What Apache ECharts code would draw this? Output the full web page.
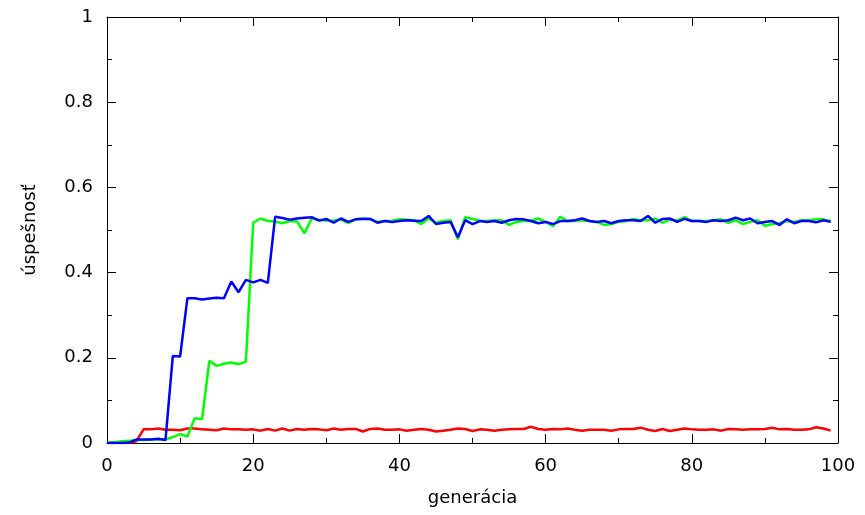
<!DOCTYPE html>
<html>
<head>
<meta charset="utf-8">
<script src="https://cdn.jsdelivr.net/npm/echarts@6/dist/echarts.min.js"></script>
<style>
  html, body { margin: 0; padding: 0; background: #fff; }
  #chart { width: 865px; height: 515px; }
</style>
</head>
<body>
<div id="chart"></div>
<script>
// generácie 0..99
var generations = [];
for (var i = 0; i < 100; i++) generations.push(i);

var greenValues = [
    0, 0.002, 0.004, 0.005, 0.007, 0.007, 0.008, 0.008, 0.008, 0.014,
    0.021, 0.015, 0.058, 0.056, 0.193, 0.181, 0.186, 0.189, 0.185, 0.191,
    0.517, 0.527, 0.521, 0.520, 0.516, 0.521, 0.520, 0.492, 0.527, 0.524,
    0.522, 0.522, 0.525, 0.516, 0.525, 0.527, 0.526, 0.519, 0.521, 0.522,
    0.525, 0.524, 0.523, 0.514, 0.527, 0.517, 0.521, 0.523, 0.478, 0.530,
    0.526, 0.522, 0.521, 0.523, 0.523, 0.512, 0.519, 0.521, 0.521, 0.527,
    0.519, 0.509, 0.531, 0.521, 0.521, 0.523, 0.521, 0.519, 0.512, 0.514,
    0.519, 0.521, 0.526, 0.523, 0.523, 0.527, 0.517, 0.525, 0.522, 0.530,
    0.521, 0.521, 0.521, 0.523, 0.525, 0.517, 0.523, 0.514, 0.519, 0.523,
    0.510, 0.514, 0.516, 0.521, 0.519, 0.523, 0.523, 0.525, 0.525, 0.521
];

var blueValues = [
    0, 0, 0, 0.001, 0.008, 0.008, 0.008, 0.010, 0.007, 0.204,
    0.203, 0.340, 0.340, 0.337, 0.339, 0.341, 0.340, 0.379, 0.354, 0.383,
    0.377, 0.383, 0.376, 0.531, 0.528, 0.524, 0.527, 0.529, 0.530, 0.522,
    0.526, 0.517, 0.527, 0.519, 0.525, 0.526, 0.526, 0.517, 0.521, 0.519,
    0.521, 0.523, 0.522, 0.521, 0.533, 0.514, 0.517, 0.519, 0.483, 0.523,
    0.514, 0.521, 0.519, 0.521, 0.517, 0.523, 0.526, 0.525, 0.521, 0.516,
    0.519, 0.514, 0.521, 0.521, 0.523, 0.527, 0.521, 0.519, 0.521, 0.516,
    0.521, 0.523, 0.523, 0.521, 0.533, 0.517, 0.526, 0.527, 0.519, 0.526,
    0.521, 0.521, 0.519, 0.523, 0.521, 0.523, 0.529, 0.523, 0.527, 0.516,
    0.519, 0.521, 0.512, 0.525, 0.516, 0.521, 0.521, 0.518, 0.523, 0.519
];

var redValues = [
    0, 0, 0, 0, 0.004, 0.032, 0.032, 0.034, 0.031, 0.031,
    0.030, 0.034, 0.034, 0.032, 0.031, 0.030, 0.034, 0.032, 0.032, 0.031,
    0.032, 0.029, 0.033, 0.029, 0.034, 0.029, 0.033, 0.031, 0.033, 0.032,
    0.030, 0.034, 0.031, 0.033, 0.033, 0.027, 0.033, 0.034, 0.031, 0.031,
    0.032, 0.029, 0.031, 0.033, 0.031, 0.027, 0.029, 0.031, 0.034, 0.033,
    0.028, 0.032, 0.031, 0.029, 0.031, 0.032, 0.033, 0.033, 0.038, 0.033,
    0.031, 0.033, 0.032, 0.034, 0.031, 0.029, 0.031, 0.031, 0.031, 0.029,
    0.032, 0.033, 0.033, 0.036, 0.031, 0.028, 0.033, 0.028, 0.031, 0.034,
    0.032, 0.031, 0.031, 0.032, 0.029, 0.033, 0.032, 0.031, 0.032, 0.032,
    0.033, 0.036, 0.032, 0.033, 0.031, 0.031, 0.032, 0.037, 0.034, 0.029
];

function pairs(values) {
    return values.map(function (v, i) { return [generations[i], v]; });
}

var chart = echarts.init(document.getElementById('chart'), null, { renderer: 'canvas' });

var font = 'DejaVu Sans';
var fontSize = 18;
// ramik ako v gnuplote, os nie je na nule
var lineBlack = { show: true, onZero: false, lineStyle: { color: '#000', width: 1 } };
var tickIn = { show: true, inside: true, length: 9, lineStyle: { color: '#000', width: 1 } };
var minorIn = { show: true, splitNumber: 2, length: 5, lineStyle: { color: '#000', width: 1 } };

var option = {
    backgroundColor: '#ffffff',
    animation: false,
    textStyle: { fontFamily: font },
    grid: { left: 107, right: 27, top: 17, bottom: 72, containLabel: false },
    xAxis: [{
        type: 'value',
        min: 0, max: 100, interval: 20,
        name: 'generácia',
        nameLocation: 'middle',
        nameGap: 46,
        nameTextStyle: { fontFamily: font, fontSize: fontSize, color: '#000' },
        axisLine: lineBlack,
        axisTick: tickIn,
        minorTick: minorIn,
        axisLabel: { fontFamily: font, fontSize: fontSize, color: '#000', margin: 14 },
        splitLine: { show: false }
    }, {
        type: 'value',
        position: 'top',
        min: 0, max: 100, interval: 20,
        axisLine: lineBlack,
        axisTick: tickIn,
        minorTick: minorIn,
        axisLabel: { show: false },
        splitLine: { show: false }
    }],
    yAxis: [{
        type: 'value',
        min: 0, max: 1, interval: 0.2,
        name: 'úspešnosť',
        nameLocation: 'middle',
        nameGap: 68,
        nameTextStyle: { fontFamily: font, fontSize: fontSize, color: '#000' },
        axisLine: lineBlack,
        axisTick: tickIn,
        minorTick: minorIn,
        axisLabel: { fontFamily: font, fontSize: fontSize, color: '#000', margin: 14 },
        splitLine: { show: false }
    }, {
        type: 'value',
        position: 'right',
        min: 0, max: 1, interval: 0.2,
        axisLine: lineBlack,
        axisTick: tickIn,
        minorTick: minorIn,
        axisLabel: { show: false },
        splitLine: { show: false }
    }],
    series: [
        {
            name: 'red', type: 'line', showSymbol: false,
            lineStyle: { color: '#ff0000', width: 2.5 },
            data: pairs(redValues)
        },
        {
            name: 'green', type: 'line', showSymbol: false,
            lineStyle: { color: '#00ff00', width: 2.5 },
            data: pairs(greenValues)
        },
        {
            name: 'blue', type: 'line', showSymbol: false,
            lineStyle: { color: '#0000ff', width: 2.5 },
            data: pairs(blueValues)
        }
    ]
};
chart.setOption(option);
</script>
</body>
</html>
